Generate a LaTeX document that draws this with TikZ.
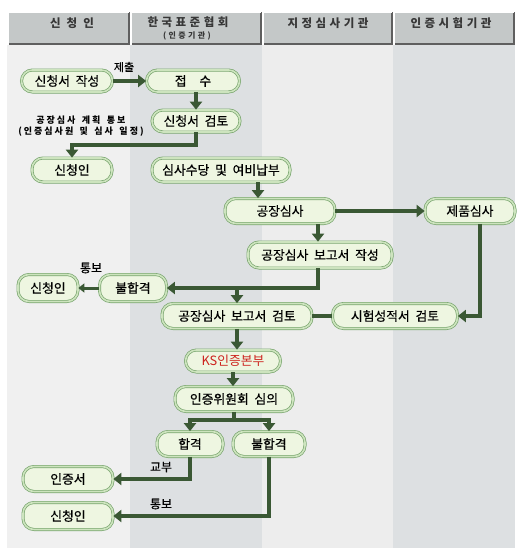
\documentclass[tikz,border=0pt]{standalone}
\usepackage{fontspec}
\setmainfont{Noto Sans CJK KR}[WordSpace=1.8]
\newfontfamily\boxfont[WordSpace=2,FakeBold=0.6]{Noto Sans CJK KR}
\newfontfamily\hdrfont[LetterSpace=30]{Noto Sans CJK KR}
\newfontfamily\planfont[LetterSpace=22,WordSpace=1.6]{Noto Sans CJK KR}
\usetikzlibrary{arrows.meta}
\definecolor{arrc}{RGB}{58,88,52}
\definecolor{boxfill}{RGB}{238,246,225}
\definecolor{boxline}{RGB}{120,165,110}
\definecolor{boxdbl}{RGB}{205,228,190}
\definecolor{hdrfill}{RGB}{196,200,200}
\definecolor{hdrdark}{RGB}{95,95,95}
\definecolor{hdrtext}{RGB}{55,55,55}
\definecolor{colA}{RGB}{240,240,240}
\definecolor{colB}{RGB}{221,224,226}
\definecolor{colC}{RGB}{237,237,237}
\definecolor{ksred}{RGB}{205,35,30}
\tikzset{
  box/.style={draw=boxline, double=boxdbl, double distance=1.6pt, line width=0.7pt,
    fill=boxfill, rounded corners=11pt, inner sep=0pt, minimum height=24pt,
    font=\boxfont\fontsize{12.8}{14}\selectfont},
  arr/.style={draw=arrc, line width=3.6pt, line join=miter,
    -{Triangle[width=12pt,length=8pt]}},
  sarr/.style={draw=arrc, line width=3pt, -{Triangle[width=9pt,length=6pt]}},
  plain/.style={draw=arrc, line width=3.6pt},
  lbl/.style={font=\boxfont\fontsize{12}{14}\selectfont, inner sep=0pt},
  hdr/.style={font=\hdrfont\bfseries\fontsize{11.5}{13}\selectfont, text=hdrtext, inner sep=0pt}
}
\begin{document}
\begin{tikzpicture}[x=1pt,y=-1pt]
\useasboundingbox (0,0) rectangle (530,560);
% body columns
\fill[colA] (7,45) rectangle (130,548);
\fill[colB] (130,45) rectangle (262,548);
\fill[colC] (262,45) rectangle (393,548);
\fill[colB] (393,45) rectangle (515,548);
% header cells
\foreach \a/\b in {7/130,130/262,262/393,393/515}{
  \fill[hdrfill] (\a+1.5,12) rectangle (\b,45);
  \draw[hdrdark, line width=1.5pt] (\a+1.5,44.2) -- (\b-0.8,44.2) -- (\b-0.8,12);
  \draw[white, line width=1pt] (\a+1.5,44) -- (\a+1.5,12) -- (\b-1.5,12);
}
\node[hdr] (h1) at (72,23) {신 청 인};
\node[hdr] (h2) at (188,22) {한국표준협회};
\node[hdr, font=\hdrfont\bfseries\fontsize{8}{9}\selectfont] (h2b) at (187,36) {(인증기관)};
\node[hdr] (h3) at (328,23) {지정심사기관};
\node[hdr] (h4) at (451,23) {인증시험기관};

% nodes
\node[box, minimum width=91pt, minimum height=22pt] (n1) at (67,81) {신청서 작성};
\node[box, minimum width=93pt, minimum height=22pt] (n2) at (193,81) {접\hspace{1em}수};
\node[box, minimum width=88pt, minimum height=22pt] (n3) at (196,121) {신청서 검토};
\node[box, minimum width=80pt] (n4) at (72,170) {신청인};
\node[box, minimum width=138pt] (n5) at (221,170) {심사수당 및 여비납부};
\node[box, minimum width=110pt, minimum height=25pt] (n6) at (280,211) {공장심사};
\node[box, minimum width=90pt, minimum height=25pt] (n7) at (470,211) {제품심사};
\node[box, minimum width=144pt, minimum height=26pt] (n8) at (320,255) {공장심사 보고서 작성};
\node[box, minimum width=67pt, minimum height=27pt] (n9) at (133,288) {불합격};
\node[box, minimum width=60pt, minimum height=27pt] (n10) at (48,288) {신청인};
\node[box, minimum width=150pt, minimum height=25pt] (n11) at (237,316) {공장심사 보고서 검토};
\node[box, minimum width=125pt, minimum height=25pt] (n12) at (395,316) {시험성적서 검토};
\node[box, minimum width=95pt, minimum height=22pt, text=ksred, font=\fontsize{12.8}{14}\selectfont] (n13) at (233,361) {KS인증본부};
\node[box, minimum width=118pt, minimum height=25pt] (n14) at (234,399) {인증위원회 심의};
\node[box, minimum width=66pt, minimum height=25pt] (n15) at (190,444) {합격};
\node[box, minimum width=72pt, minimum height=25pt] (n16) at (269,444) {불합격};
\node[box, minimum width=90pt, minimum height=25pt] (n17) at (68,479) {인증서};
\node[box, minimum width=90pt, minimum height=27pt] (n18) at (68,516) {신청인};

% labels
\node[lbl, font=\boxfont\fontsize{11}{13}\selectfont] (l1) at (124,67) {제출};
\node[lbl, font=\planfont\bfseries\fontsize{9}{10}\selectfont] (l2) at (81,120) {공장심사 계획 통보};
\node[lbl, font=\planfont\bfseries\fontsize{9}{10}\selectfont] (l3) at (81,132) {(인증심사원 및 심사 일정)};
\node[lbl] (l4) at (91,268) {통보};
\node[lbl] (l5) at (161,467) {교부};
\node[lbl] (l6) at (161,504) {통보};

% coordinates
\coordinate (c1) at (196,145);
\coordinate (c2) at (258,0);
\coordinate (c3) at (318,0);
\coordinate (j1) at (237,288);
\coordinate (c4) at (480,0);
\coordinate (j2) at (234,420);

% connectors
\draw[arr] (n1.east) -- (n2.west);
\draw[arr] (n3.north |- n2.south) -- (n3.north);
\draw[arr] (n3.south) -- (c1) -| (n4.north);
\draw[arr] (n5.south -| c2) -- (n6.north -| c2);
\draw[arr] (n6.east) -- (n7.west);
\draw[arr] (n6.south -| c3) -- (n8.north -| c3);
\draw[arr] (n8.south -| c3) |- (n9.east);
\draw[arr] (j1) -- (n11.north);
\draw[sarr] (n9.west) -- (n10.east);
\draw[arr] (n7.south -| c4) |- (n12.east);
\draw[plain] (n12.west) -- (n11.east);
\draw[arr] (n11.south) -- (n11.south |- n13.north);
\draw[arr] (n13.south) -- (n13.south |- n14.north);
\draw[plain] (n14.south) -- (j2);
\draw[arr] (j2) -| (n15.north);
\draw[arr] (j2) -| (n16.north);
\draw[arr] (n15.south) |- (n17.east);
\draw[arr] (n16.south) |- (n18.east);
\end{tikzpicture}
\end{document}
